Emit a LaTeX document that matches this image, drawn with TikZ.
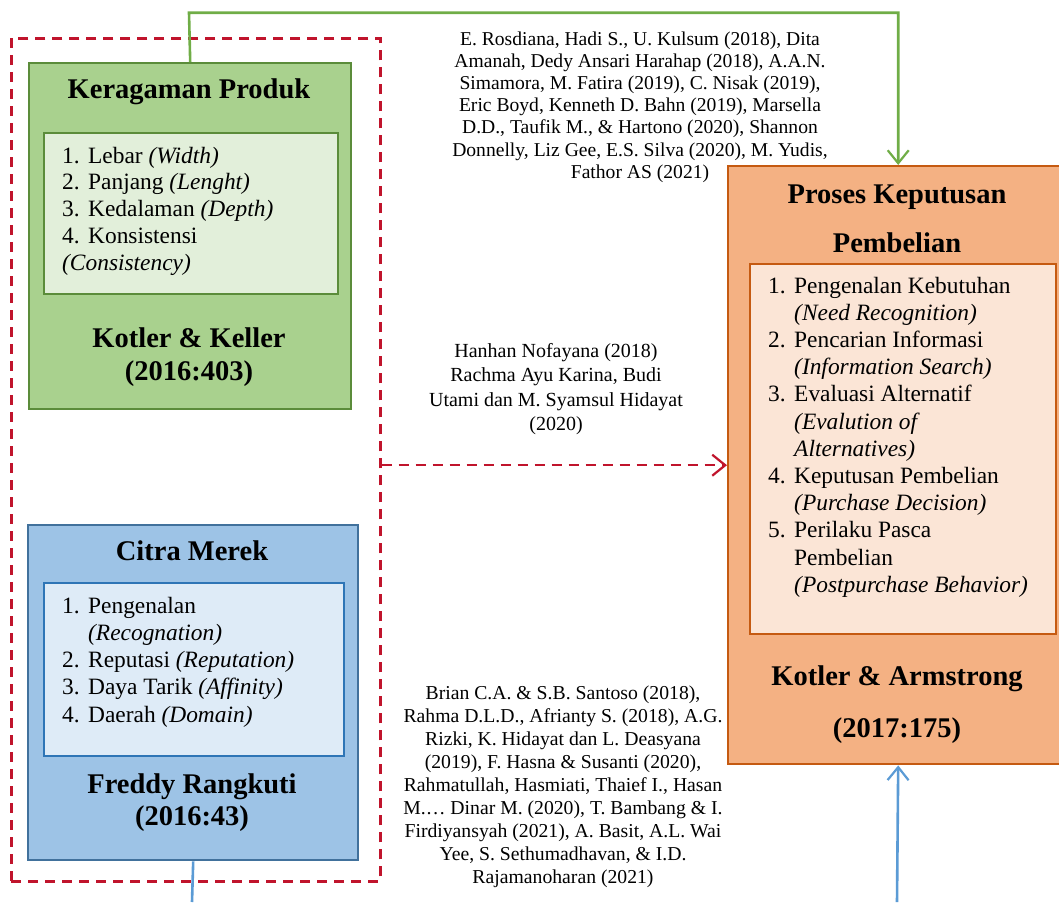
\documentclass[tikz,border=0pt]{standalone}
\usepackage{fontspec}
\setmainfont{Liberation Serif}
\usetikzlibrary{arrows.meta}
\definecolor{gfill}{HTML}{A9D18E}
\definecolor{gline}{HTML}{5B8C3A}
\definecolor{gin}{HTML}{E2EFDA}
\definecolor{garrow}{HTML}{70AD47}
\definecolor{bfill}{HTML}{9DC3E6}
\definecolor{bline}{HTML}{41719C}
\definecolor{binline}{HTML}{2E75B6}
\definecolor{bin}{HTML}{DEEBF7}
\definecolor{barrow}{HTML}{5B9BD5}
\definecolor{ofill}{HTML}{F4B183}
\definecolor{oline}{HTML}{C55A11}
\definecolor{oin}{HTML}{FBE5D6}
\definecolor{dred}{HTML}{C0142C}
\newcommand\numbox[1]{\makebox[26pt][l]{#1}}
\tikzset{
  box/.style={draw, inner sep=0pt, anchor=north west, line width=2.4pt},
  gout/.style={box, draw=gline, fill=gfill},
  gbox/.style={box, draw=gline, fill=gin, line width=2.2pt},
  bout/.style={box, draw=bline, fill=bfill},
  bbox/.style={box, draw=binline, fill=bin, line width=2.2pt},
  oout/.style={box, draw=oline, fill=ofill},
  obox/.style={box, draw=oline, fill=oin, line width=2.2pt},
  lbl/.style={inner sep=0pt, anchor=base, align=center},
  lst/.style={inner sep=0pt, anchor=base west, align=left},
  tip/.style={-{Straight Barb[length=13pt,width=21pt,line width=2.2pt]}},
  conn/.style={line width=2.6pt},
}
\begin{document}
\begin{tikzpicture}[x=1pt,y=-1pt]
\useasboundingbox (0,0) rectangle (1059,902);
% boxes
\node[gout, minimum width=322pt, minimum height=346pt] (kp) at (28,62) {};
\node[gbox, minimum width=294pt, minimum height=161pt] (kpin) at (43,132) {};
\node[bout, minimum width=330pt, minimum height=335pt] (cm) at (27,524) {};
\node[bbox, minimum width=300pt, minimum height=173pt] (cmin) at (43,582) {};
\node[oout, minimum width=340pt, minimum height=598pt] (pkp) at (727,165) {};
\node[obox, minimum width=306pt, minimum height=370pt] (pkpin) at (749,263) {};
\node[draw=dred, line width=2.5pt, dash pattern=on 10pt off 7pt, inner sep=0pt, anchor=north west,
      minimum width=369pt, minimum height=843pt] (grp) at (10,37) {};
% green texts (base = baseline of last line)
\node[lbl, font=\fontsize{28.5}{33}\bfseries\selectfont] (kpt) at (189,98) {Keragaman Produk};
\node[lst, font=\fontsize{23.4}{26.8}\selectfont] (kpl) at (62,270.2) {%
\numbox{1.}Lebar \textit{(Width)}\\
\numbox{2.}Panjang \textit{(Lenght)}\\
\numbox{3.}Kedalaman \textit{(Depth)}\\
\numbox{4.}Konsistensi\\
\textit{(Consistency)}};
\node[lbl, font=\fontsize{28.5}{33}\bfseries\selectfont] (kps) at (189,380) {Kotler \& Keller\\(2016:403)};
% blue texts
\node[lbl, font=\fontsize{28.5}{33}\bfseries\selectfont] (cmt) at (192,560) {Citra Merek};
\node[lst, font=\fontsize{23.4}{27.3}\selectfont] (cml) at (62,722.2) {%
\numbox{1.}Pengenalan\\
\numbox{}\textit{(Recognation)}\\
\numbox{2.}Reputasi \textit{(Reputation)}\\
\numbox{3.}Daya Tarik \textit{(Affinity)}\\
\numbox{4.}Daerah \textit{(Domain)}};
\node[lbl, font=\fontsize{28.5}{32}\bfseries\selectfont] (cms) at (192,825) {Freddy Rangkuti\\(2016:43)};
% orange texts
\node[lbl, font=\fontsize{28.5}{49}\bfseries\selectfont] (pkpt) at (897,252) {Proses Keputusan\\Pembelian};
\node[lst, font=\fontsize{23.4}{27.2}\selectfont] (pkpl) at (768,592.2) {%
\numbox{1.}Pengenalan Kebutuhan\\
\numbox{}\textit{(Need Recognition)}\\
\numbox{2.}Pencarian Informasi\\
\numbox{}\textit{(Information Search)}\\
\numbox{3.}Evaluasi Alternatif\\
\numbox{}\textit{(Evalution of}\\
\numbox{}\textit{Alternatives)}\\
\numbox{4.}Keputusan Pembelian\\
\numbox{}\textit{(Purchase Decision)}\\
\numbox{5.}Perilaku Pasca\\
\numbox{}Pembelian\\
\numbox{}\textit{(Postpurchase Behavior)}};
\node[lbl, font=\fontsize{28.5}{52}\bfseries\selectfont] (pkps) at (897,737) {Kotler \& Armstrong\\(2017:175)};
% citations
\node[lbl, font=\fontsize{19.6}{22.2}\selectfont] (c1) at (640,178.2) {%
E. Rosdiana, Hadi S., U. Kulsum (2018), Dita\\
Amanah, Dedy Ansari Harahap (2018), A.A.N.\\
Simamora, M. Fatira (2019), C. Nisak (2019),\\
Eric Boyd, Kenneth D. Bahn (2019), Marsella\\
D.D., Taufik M., \& Hartono (2020), Shannon\\
Donnelly, Liz Gee, E.S. Silva (2020), M. Yudis,\\
Fathor AS (2021)};
\node[lbl, font=\fontsize{20}{24.5}\selectfont] (c2) at (556,430.5) {%
Hanhan Nofayana (2018)\\
Rachma Ayu Karina, Budi\\
Utami dan M. Syamsul Hidayat\\
(2020)};
\node[lbl, font=\fontsize{19.7}{22.9}\selectfont] (c3) at (563,883) {%
Brian C.A. \& S.B. Santoso (2018),\\
Rahma D.L.D., Afrianty S. (2018), A.G.\\
Rizki, K. Hidayat dan L. Deasyana\\
(2019), F. Hasna \& Susanti (2020),\\
Rahmatullah, Hasmiati, Thaief I., Hasan\\
M.… Dinar M. (2020), T. Bambang \& I.\\
Firdiyansyah (2021), A. Basit, A.L. Wai\\
Yee, S. Sethumadhavan, \& I.D.\\
Rajamanoharan (2021)};
% connectors
\coordinate (gtop) at (189,12.7);
\draw[conn, draw=garrow, tip] (kp.north) -- (gtop) -| (pkp.north);
\coordinate (bleft) at (192,902);
\coordinate (bright) at (897,902);
\draw[conn, draw=barrow] (cm.south) -- (bleft);
\draw[conn, draw=barrow, tip] (bright) -- (pkp.south);
\draw[line width=2.5pt, draw=dred, dash pattern=on 10pt off 7pt, tip] (grp.east |- pkp.west) -- (pkp.west);
\end{tikzpicture}
\end{document}
